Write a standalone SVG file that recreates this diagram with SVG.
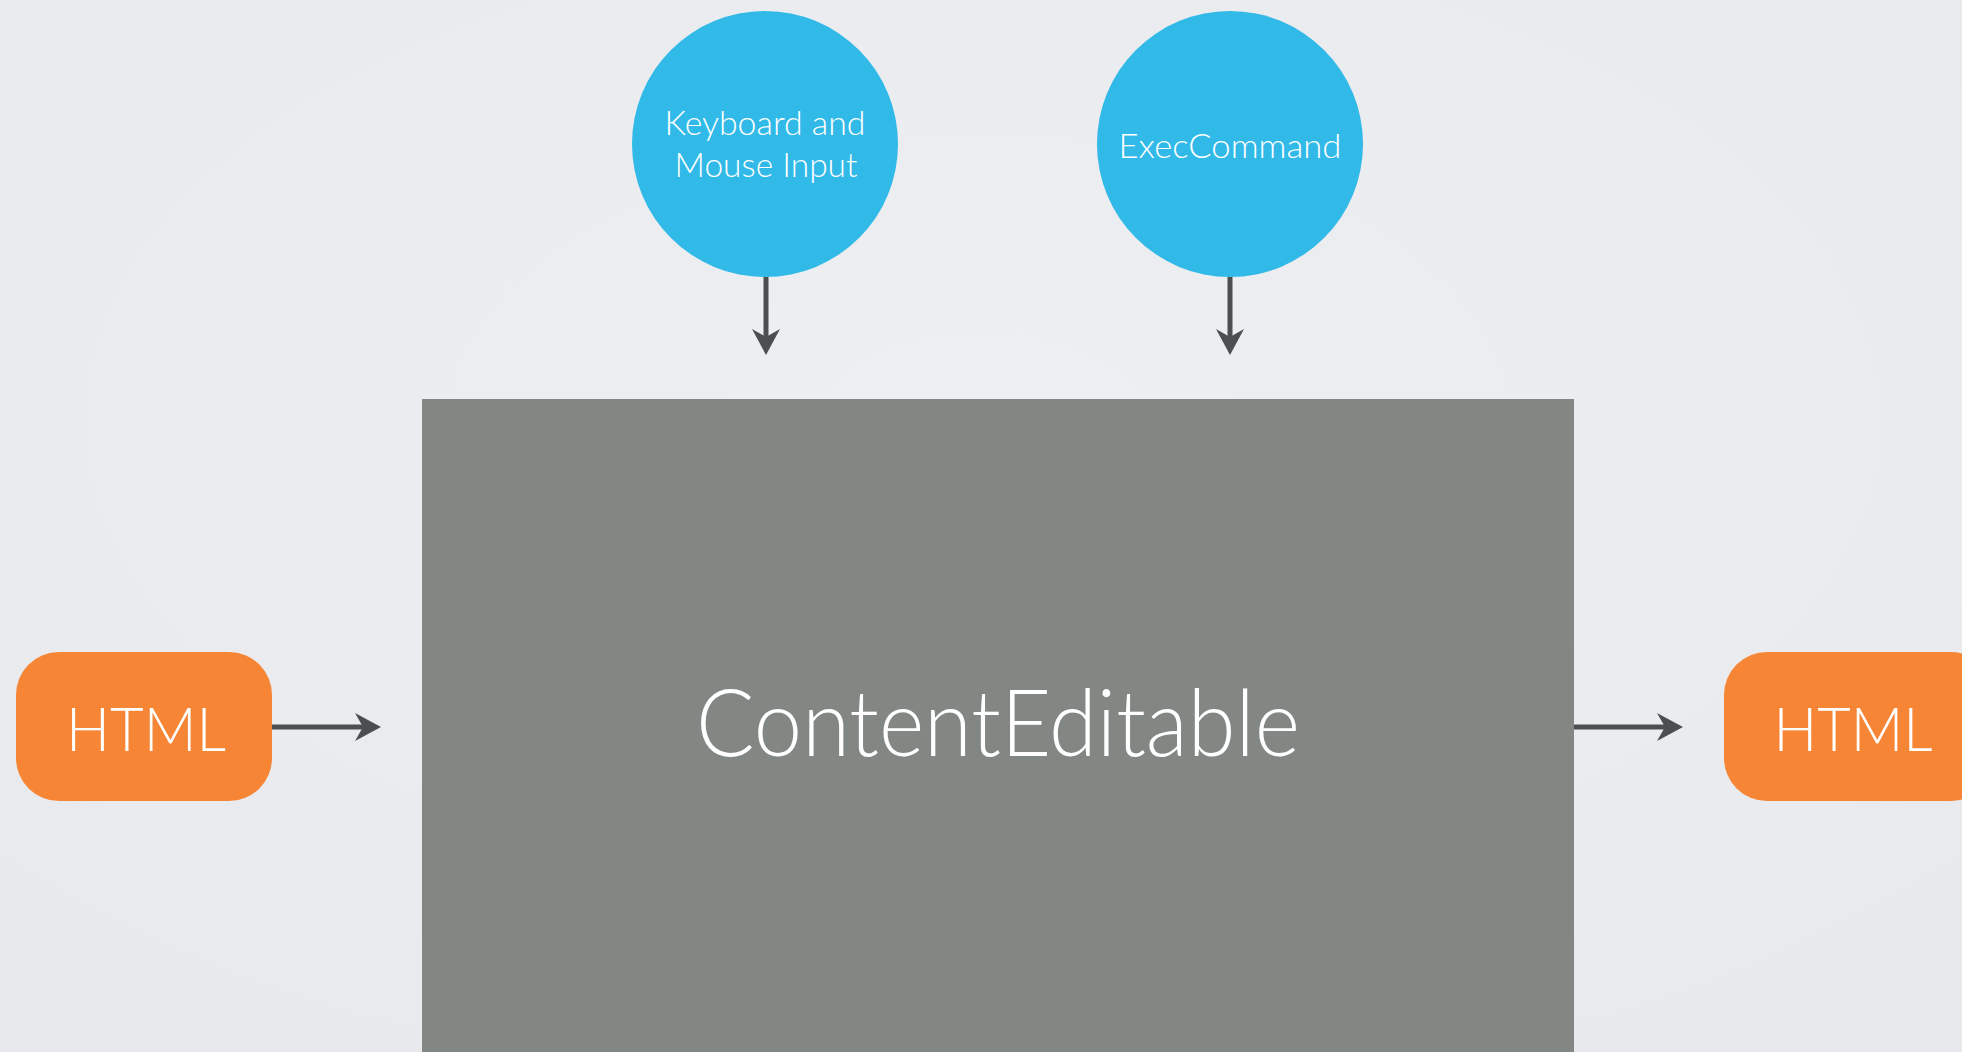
<svg xmlns="http://www.w3.org/2000/svg" width="1962" height="1052" viewBox="0 0 1962 1052">
<defs>
<radialGradient id="bg" cx="50%" cy="40%" r="75%">
<stop offset="0" stop-color="#eeeff2"/>
<stop offset="1" stop-color="#e8e9ec"/>
</radialGradient>
<path id="ahd" d="M0,0 L-14,-26 L0,-18 L14,-26 Z"/>
</defs>
<style>
.circ{fill:#31b9e8}
.html{fill:#f68636}
.lbl{fill:#ffffff;font-family:"Lato","Open Sans","Liberation Sans",sans-serif;font-weight:300;text-anchor:middle}
.conn{stroke:#4d4e4f;stroke-width:5;fill:none}
.head{fill:#4d4e4f}
</style>
<rect x="0" y="0" width="1962" height="1052" fill="url(#bg)"/>
<g id="keyboard">
<circle class="circ" cx="765" cy="144" r="133"/>
<text class="lbl" x="765" y="135" font-size="34" textLength="201" lengthAdjust="spacingAndGlyphs">Keyboard and</text>
<text class="lbl" x="766" y="177" font-size="34" textLength="183" lengthAdjust="spacingAndGlyphs">Mouse Input</text>
</g>
<g id="execcommand">
<circle class="circ" cx="1230" cy="144" r="133"/>
<text class="lbl" x="1230" y="158" font-size="34" textLength="223" lengthAdjust="spacingAndGlyphs">ExecCommand</text>
</g>
<g id="contenteditable">
<rect x="422" y="399" width="1152" height="660" fill="#828784"/>
<text class="lbl" x="998" y="756" font-size="92" textLength="604" lengthAdjust="spacingAndGlyphs">ContentEditable</text>
</g>
<g id="html-in">
<rect class="html" x="16" y="652" width="256" height="149" rx="43" ry="43"/>
<text class="lbl" x="146" y="751" font-size="62" textLength="160" lengthAdjust="spacingAndGlyphs">HTML</text>
</g>
<g id="html-out">
<rect class="html" x="1724" y="652" width="270" height="149" rx="43" ry="43"/>
<text class="lbl" x="1853" y="751" font-size="62" textLength="159" lengthAdjust="spacingAndGlyphs">HTML</text>
</g>
<g id="connectors">
<line class="conn" x1="766" y1="277" x2="766" y2="340"/>
<use href="#ahd" class="head" transform="translate(766,355)"/>
<line class="conn" x1="1230" y1="277" x2="1230" y2="340"/>
<use href="#ahd" class="head" transform="translate(1230,355)"/>
<line class="conn" x1="272" y1="727" x2="366" y2="727"/>
<use href="#ahd" class="head" transform="translate(381,727) rotate(-90)"/>
<line class="conn" x1="1574" y1="727" x2="1668" y2="727"/>
<use href="#ahd" class="head" transform="translate(1683,727) rotate(-90)"/>
</g>
</svg>
